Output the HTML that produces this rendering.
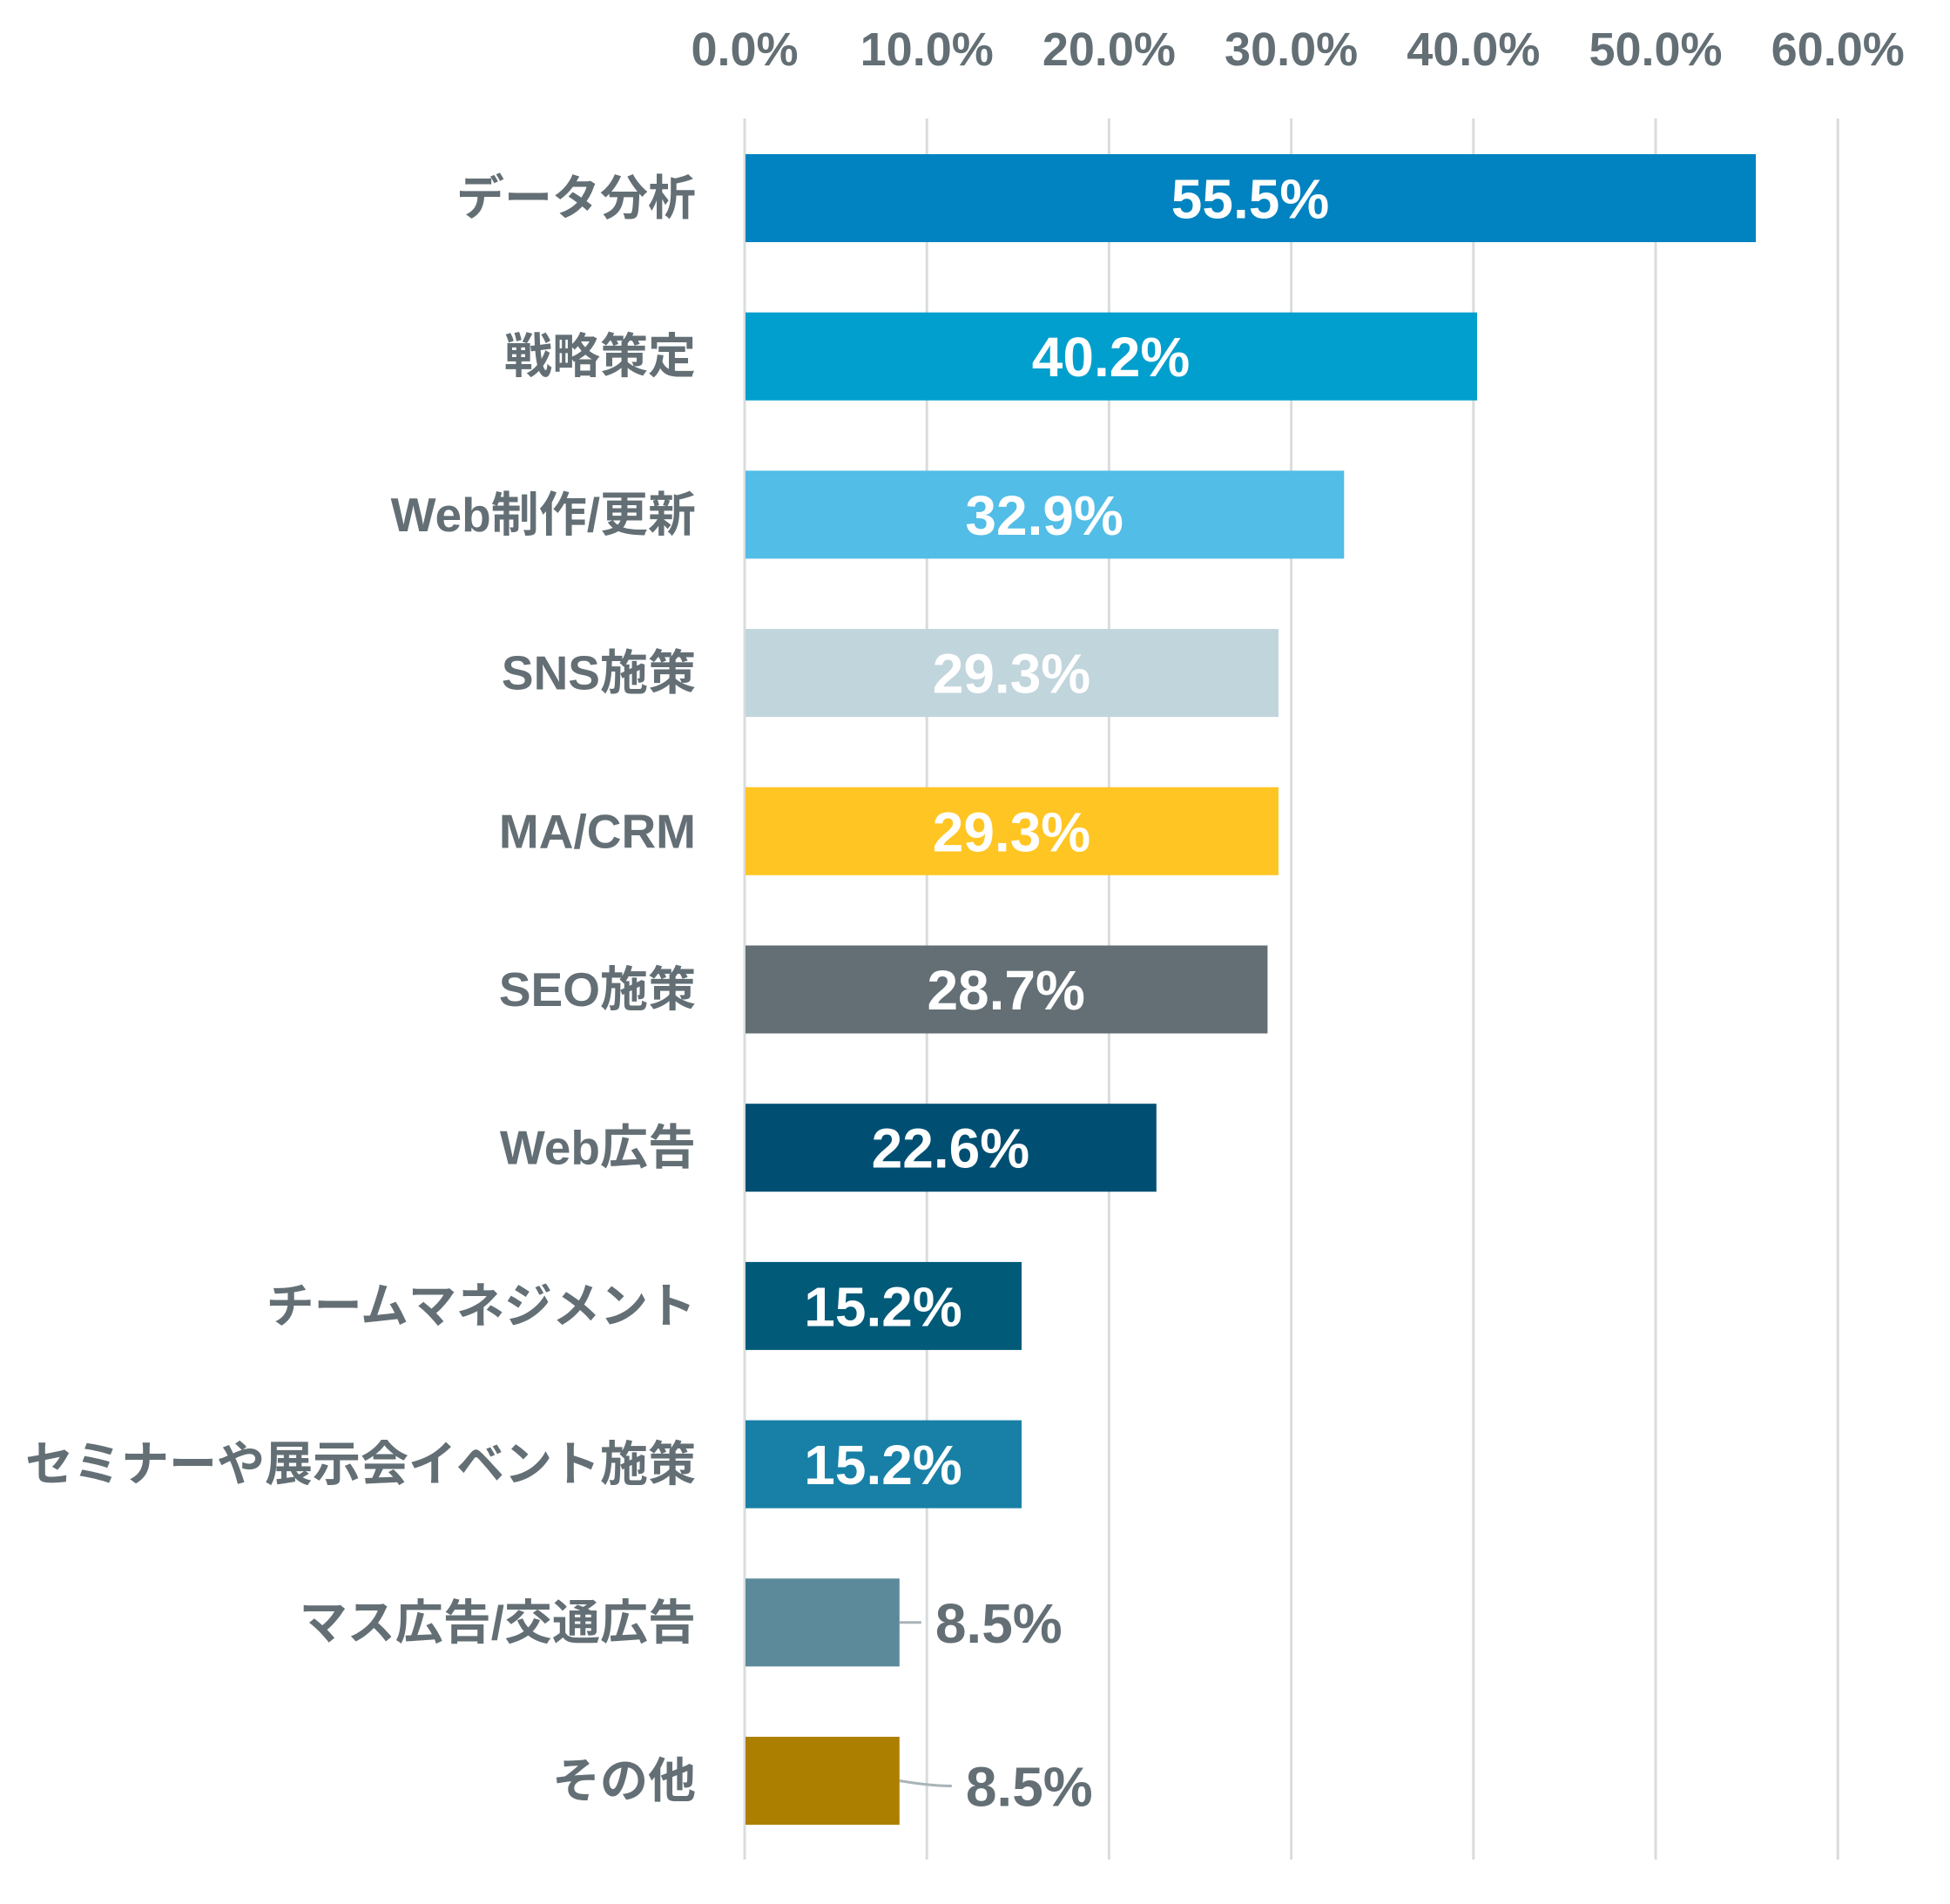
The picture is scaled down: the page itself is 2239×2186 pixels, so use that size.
<!DOCTYPE html>
<html><head><meta charset="utf-8">
<style>
html,body{margin:0;padding:0;background:#fff;}
svg{display:block;}
text{font-family:"Liberation Sans","Noto Sans CJK JP",sans-serif;font-weight:bold;}
</style></head>
<body>
<svg id="chart" width="2239" height="2186" xmlns="http://www.w3.org/2000/svg"></svg>
<script>
const categories=["データ分析","戦略策定","Web制作/更新","SNS施策","MA/CRM","SEO施策","Web広告","チームマネジメント","セミナーや展示会イベント施策","マス広告/交通広告","その他"];
const values=[55.5,40.2,32.9,29.3,29.3,28.7,22.6,15.2,15.2,8.5,8.5];
const valueLabels=["55.5%","40.2%","32.9%","29.3%","29.3%","28.7%","22.6%","15.2%","15.2%","8.5%","8.5%"];
const ticks=[0,10,20,30,40,50,60];
const tickLabels=["0.0%","10.0%","20.0%","30.0%","40.0%","50.0%","60.0%"];
const colors=["#0083C0","#009FCD","#52BDE6","#C1D5DC","#FFC523","#636F75","#004F72","#005A78","#1880A6","#5C8A9B","#AD7F00"];

const NS="http://www.w3.org/2000/svg";
const svg=document.getElementById('chart');
const x0=855, pxPer=20.92;
const xs=v=>x0+v*pxPer;
const y0=177, pitch=181.7, bh=101;
const ys=i=>y0+i*pitch;
function mk(tag,attrs){const e=document.createElementNS(NS,tag);for(const k in attrs)e.setAttribute(k,attrs[k]);svg.appendChild(e);return e;}

ticks.forEach((t,i)=>{
  const g=mk('line',{x1:xs(t),x2:xs(t),y1:136,y2:2135,stroke:'#D9DCDD','stroke-width':3});
  
  
  const tl=mk('text',{x:xs(t),y:75,'text-anchor':'middle','font-size':54,fill:'#636F75'});
  tl.textContent=tickLabels[i];
  
  
});

categories.forEach((c,i)=>{
  const y=ys(i), cy=y+bh/2;
  const r=mk('rect',{x:x0+1,y:y,width:xs(values[i])-x0-1,height:bh,fill:colors[i]});
  
  
  const cl=mk('text',{x:799,y:cy+19,'text-anchor':'end','font-size':55,fill:'#636F75'});
  cl.textContent=c;
  
  
  const barW=xs(values[i])-x0;
  let vl;
  if(barW>250){
    vl=mk('text',{x:x0+barW/2,y:cy+23,'text-anchor':'middle','font-size':64,fill:'#ffffff'});
  }else{
    const end=xs(values[i]);
    const off=(i===categories.length-1)?60:25;
    const dy=(i===categories.length-1)?6:0;
    const ld=mk('path',{d:`M${end} ${cy} Q${end+off*0.6} ${cy+dy} ${end+off} ${cy+dy}`,stroke:'#A9B4B8','stroke-width':3,fill:'none'});
    
    
    vl=mk('text',{x:end+off+16,y:cy+dy+23,'text-anchor':'start','font-size':64,fill:'#636F75'});
  }
  vl.textContent=valueLabels[i];
  
  
});
</script>
</body></html>
